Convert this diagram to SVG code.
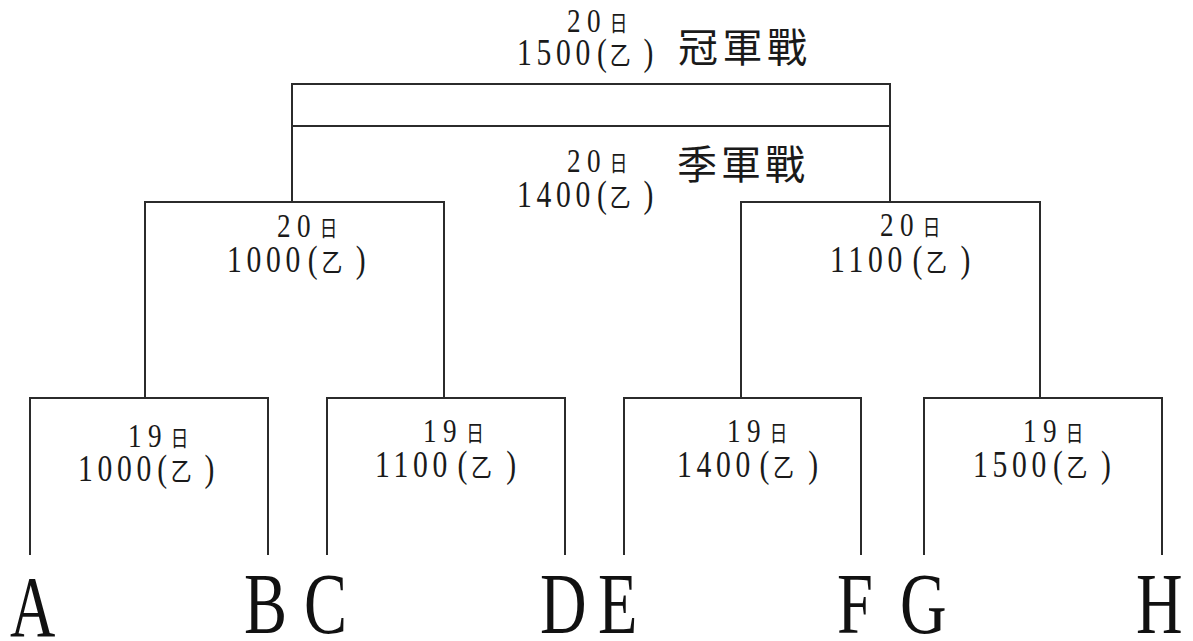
<svg xmlns="http://www.w3.org/2000/svg" width="1193" height="641" viewBox="0 0 1193 641">
<defs>
<style>
.ln{fill:none;stroke:#2b2b2b;stroke-width:2}
.lab{font-family:"Liberation Serif",serif;fill:#1a1a1a}
.d{font-size:37px;letter-spacing:5.9px}
.d1{font-size:34px;letter-spacing:8px}
.p{font-size:37px}
.ri{font-family:"Noto Sans CJK TC","Noto Sans CJK SC",sans-serif;font-size:22px}
.yi{font-family:"Noto Sans CJK TC","Noto Sans CJK SC",sans-serif;font-size:26px}
.cb{font-family:"Noto Sans CJK TC","Noto Sans CJK SC",sans-serif;font-size:40px;fill:#1a1a1a}
.L{font-family:"Liberation Serif","Times New Roman",serif;font-size:86px;fill:#111}
</style>
</defs>
<rect width="1193" height="641" fill="#fff"/>
<g id="connectors" class="ln">
<path d="M292,202 V84 H890 V202 M292,126 H890"/>
<path d="M145,398 V202 H444 V398"/>
<path d="M741,398 V202 H1040 V398"/>
<path d="M30,555 V398 H268 V555"/>
<path d="M327,555 V398 H565 V555"/>
<path d="M624,555 V398 H861 V555"/>
<path d="M924,555 V398 H1162 V555"/>
</g>
<g id="final">
<text class="lab" transform="translate(517,65) scale(0.8,1)"><tspan class="d1" x="62.5" y="-33">20</tspan><tspan class="ri" x="116" y="-34">日</tspan><tspan class="d" x="0" y="0">1500</tspan><tspan class="p" x="100" y="0">(</tspan><tspan class="yi" x="116" y="0">乙</tspan><tspan class="p" x="158" y="0">)</tspan></text>
<text class="cb" x="678" y="62" textLength="129" lengthAdjust="spacing">冠軍戰</text>
</g>
<g id="third">
<text class="lab" transform="translate(517,207) scale(0.8,1)"><tspan class="d1" x="62.5" y="-35">20</tspan><tspan class="ri" x="116" y="-36">日</tspan><tspan class="d" x="0" y="0">1400</tspan><tspan class="p" x="100" y="0">(</tspan><tspan class="yi" x="116" y="0">乙</tspan><tspan class="p" x="158" y="0">)</tspan></text>
<text class="cb" x="677" y="179" textLength="128" lengthAdjust="spacing">季軍戰</text>
</g>
<g id="semi1">
<text class="lab" transform="translate(227,272) scale(0.8,1)"><tspan class="d1" x="62.5" y="-35">20</tspan><tspan class="ri" x="116" y="-36">日</tspan><tspan class="d" x="0" y="0">1000</tspan><tspan class="p" x="101" y="0">(</tspan><tspan class="yi" x="118" y="0">乙</tspan><tspan class="p" x="161" y="0">)</tspan></text>
</g>
<g id="semi2">
<text class="lab" transform="translate(830,272) scale(0.8,1)"><tspan class="d1" x="62.5" y="-36">20</tspan><tspan class="ri" x="116" y="-37">日</tspan><tspan class="d" x="0" y="0">1100</tspan><tspan class="p" x="103" y="0">(</tspan><tspan class="yi" x="120" y="0">乙</tspan><tspan class="p" x="163" y="0">)</tspan></text>
</g>
<g id="q1">
<text class="lab" transform="translate(78,481) scale(0.8,1)"><tspan class="d1" x="62.5" y="-34">19</tspan><tspan class="ri" x="116" y="-35">日</tspan><tspan class="d" x="0" y="0">1000</tspan><tspan class="p" x="99" y="0">(</tspan><tspan class="yi" x="116" y="0">乙</tspan><tspan class="p" x="158" y="0">)</tspan></text>
</g>
<g id="q2">
<text class="lab" transform="translate(375,477) scale(0.8,1)"><tspan class="d1" x="60" y="-35">19</tspan><tspan class="ri" x="114" y="-36">日</tspan><tspan class="d" x="0" y="0">1100</tspan><tspan class="p" x="103" y="0">(</tspan><tspan class="yi" x="120" y="0">乙</tspan><tspan class="p" x="164" y="0">)</tspan></text>
</g>
<g id="q3">
<text class="lab" transform="translate(677,477) scale(0.8,1)"><tspan class="d1" x="62.5" y="-35">19</tspan><tspan class="ri" x="116" y="-36">日</tspan><tspan class="d" x="0" y="0">1400</tspan><tspan class="p" x="103" y="0">(</tspan><tspan class="yi" x="120" y="0">乙</tspan><tspan class="p" x="164" y="0">)</tspan></text>
</g>
<g id="q4">
<text class="lab" transform="translate(973,477) scale(0.8,1)"><tspan class="d1" x="62.5" y="-35">19</tspan><tspan class="ri" x="116" y="-36">日</tspan><tspan class="d" x="0" y="0">1500</tspan><tspan class="p" x="100" y="0">(</tspan><tspan class="yi" x="117" y="0">乙</tspan><tspan class="p" x="160" y="0">)</tspan></text>
</g>
<g id="teams">
<text id="teamA" class="L" transform="translate(10,636) scale(0.73,1)">A</text>
<text id="teamB" class="L" transform="translate(244,633) scale(0.75,1)">B</text>
<text id="teamC" class="L" transform="translate(304,633) scale(0.75,1)">C</text>
<text id="teamD" class="L" transform="translate(540,633) scale(0.75,1)">D</text>
<text id="teamE" class="L" transform="translate(598,633) scale(0.75,1)">E</text>
<text id="teamF" class="L" transform="translate(837,633) scale(0.75,1)">F</text>
<text id="teamG" class="L" transform="translate(900,633) scale(0.75,1)">G</text>
<text id="teamH" class="L" transform="translate(1136,633) scale(0.75,1)">H</text>
</g>
</svg>
